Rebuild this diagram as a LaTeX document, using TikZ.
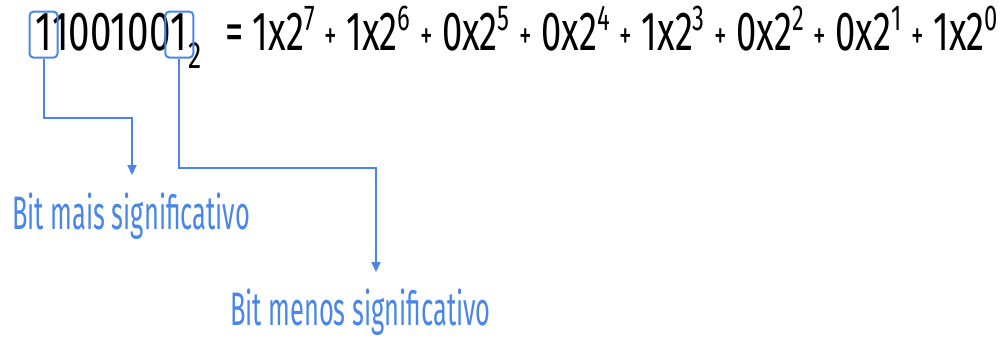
\documentclass[tikz,border=0pt]{standalone}
\usepackage{fontspec}
\setmainfont{Fira Sans}[FakeStretch=0.7]
\newfontfamily\sumfont{Fira Sans}[FakeStretch=0.66]
\newfontfamily\labelfont{Fira Sans}[FakeStretch=0.54]
\usetikzlibrary{positioning,arrows.meta}
\definecolor{bitblue}{HTML}{4A86E8}
\newcommand{\pwr}[1]{\raisebox{20pt}{\fontsize{36}{40}\selectfont #1}}
\newcommand{\pls}{\raisebox{2pt}{\fontsize{38}{40}\selectfont +}}

\begin{document}
\begin{tikzpicture}[x=1pt,y=-1pt,
  num/.style={inner sep=0, font=\fontsize{55}{60}\selectfont},
  bitbox/.style={draw=bitblue, line width=2pt, rounded corners=4pt, minimum width=28pt, minimum height=46pt},
  bitlabel/.style={inner sep=0, anchor=base west, text=bitblue, font=\labelfont\fontsize{47}{52}\selectfont},
  arrow/.style={-{Triangle[length=10pt,width=9pt]}, draw=bitblue, line width=2pt}
]
\useasboundingbox (0,0) rectangle (1007,338);
% the number
\node[num, anchor=base west] (msb) at (35,50) {1};
\node[num, anchor=base west] (mid) at (msb.base east) {100100};
\node[num, anchor=base west] (lsb) at (mid.base east) {1};
\node[inner sep=0, anchor=base west, font=\fontsize{38}{40}\selectfont] (radix) at (lsb.base east) {\raisebox{-18pt}{2}};
\node[num, anchor=base west, font=\sumfont\fontsize{55}{60}\selectfont] (expansion) at (225,50)
  {= 1x2\pwr{7} \pls{} 1x2\pwr{6} \pls{} 0x2\pwr{5} \pls{} 0x2\pwr{4} \pls{} 1x2\pwr{3} \pls{} 0x2\pwr{2} \pls{} 0x2\pwr{1} \pls{} 1x2\pwr{0}};
% boxes
\node[bitbox] (msbbox) at ([yshift=-3pt]msb.center) {};
\node[bitbox] (lsbbox) at ([yshift=-3pt]lsb.center) {};
% labels
\node[bitlabel] (msblabel) at (12,229) {Bit mais significativo};
\node[bitlabel] (lsblabel) at (230,325) {Bit menos significativo};
\coordinate (msbtip) at (132,175);
\coordinate (lsbtip) at (376,272);
\draw[arrow] (msbbox.south) -- ++(0,59) -| (msbtip);
\draw[arrow] (lsbbox.south) -- ++(0,109) -| (lsbtip);
\end{tikzpicture}
\end{document}
